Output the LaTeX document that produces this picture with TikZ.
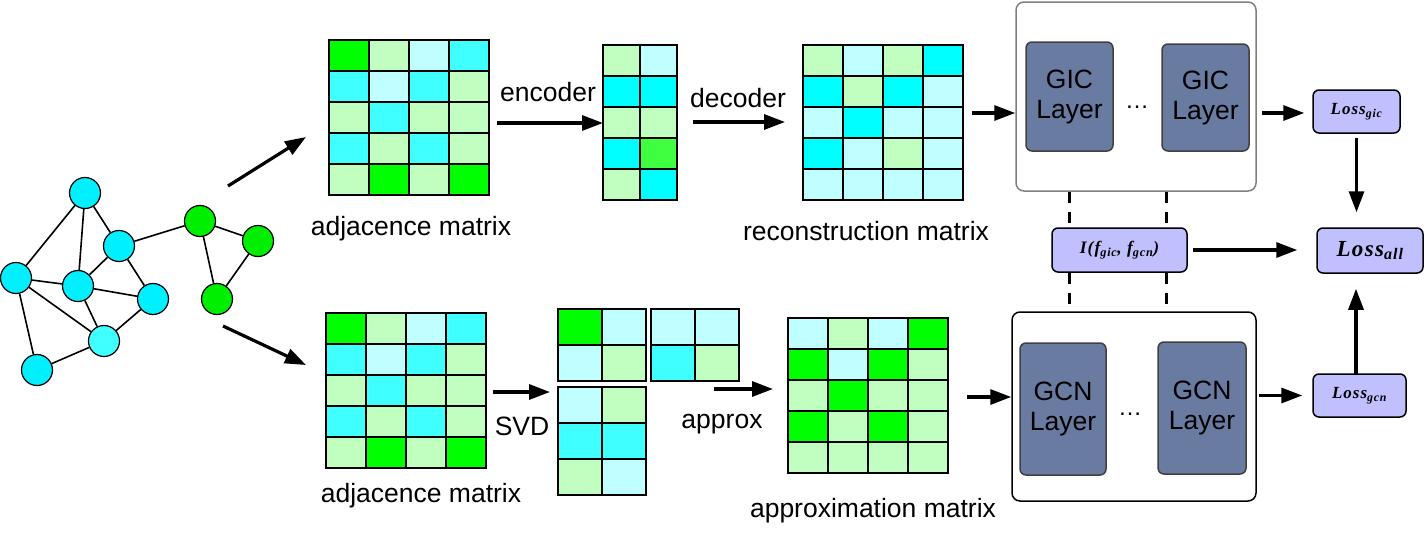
\documentclass[tikz,border=0pt]{standalone}
\usepackage{fontspec}
\setmainfont{Liberation Sans}
\newfontfamily\lossfont{Liberation Serif}
\newfontfamily\lossfontsp[LetterSpace=6]{Liberation Serif}
\usetikzlibrary{arrows.meta,calc}
\definecolor{mG}{HTML}{00FF00}
\definecolor{mGb}{HTML}{40FF40}
\definecolor{mLG}{HTML}{C0FFC0}
\definecolor{mLC}{HTML}{C0FFFF}
\definecolor{mC}{HTML}{40FFFF}
\definecolor{mCC}{HTML}{00FFFF}
\definecolor{gCy}{HTML}{00F0FF}
\definecolor{gCl}{HTML}{40FFFF}
\definecolor{gGr}{HTML}{00EE00}
\definecolor{layerfill}{HTML}{6A7BA2}
\definecolor{lossfill}{HTML}{C0C0FF}
\newcommand\cellmat[5]{%
  \foreach \row [count=\r from 0] in {#5} {
    \foreach \c [count=\k from 0] in \row {
      \filldraw[cell, fill=\c] ({#1+\k*#3},{#2+\r*#4}) rectangle ++(#3,#4);
    }}}
\begin{document}
\begin{tikzpicture}[x=1pt,y=-1pt,
  cell/.style={draw=black, line width=1.3pt},
  gnode/.style={circle, draw=black, line width=1.2pt, minimum size=31pt, inner sep=0pt},
  gedge/.style={line width=1.6pt},
  arr/.style={line width=3.2pt, -{Triangle[length=21pt,width=15pt]}},
  lbl/.style={font=\fontsize{26.5}{30}\selectfont, anchor=base, inner sep=0pt},
  layer/.style={draw=black!75, fill=layerfill, rounded corners=6pt, line width=1.5pt, align=center, font=\fontsize{26.5}{30}\selectfont, inner sep=0pt},
  outerbox/.style={draw, rounded corners=8pt, line width=1.5pt, inner sep=0pt},
  loss/.style={draw=black, fill=lossfill, rounded corners=6pt, line width=1.5pt, inner sep=0pt},
  dotsl/.style={font=\fontsize{24}{26}\selectfont, anchor=base, inner sep=0pt},
  matbox/.style={inner sep=0pt}]
\useasboundingbox (0,0) rectangle (1424,533);

% ---------- graph ----------
\node[gnode, fill=gCy] (n1) at (85,193) {};
\node[gnode, fill=gCy] (n2) at (119,246) {};
\node[gnode, fill=gCy] (n3) at (16,278) {};
\node[gnode, fill=gCy] (n4) at (78,286) {};
\node[gnode, fill=gCy] (n5) at (153,299) {};
\node[gnode, fill=gCl] (n6) at (104,341) {};
\node[gnode, fill=gCy] (n7) at (37,370) {};
\node[gnode, fill=gGr] (g1) at (200,221) {};
\node[gnode, fill=gGr] (g2) at (258,241) {};
\node[gnode, fill=gGr] (g3) at (217,299) {};
\foreach \a/\b in {n1/n3,n1/n4,n1/n2,n2/g1,n2/n4,n2/n5,n3/n4,n3/n6,n3/n7,n4/n5,n4/n6,n6/n5,n6/n7,g1/g2,g1/g3,g2/g3}
  \draw[gedge] (\a) -- (\b);

% ---------- matrices ----------
\cellmat{329}{40}{40}{31}{{mG,mLG,mLC,mC},{mC,mLC,mC,mLG},{mLG,mC,mLG,mLG},{mC,mLG,mC,mLG},{mLG,mG,mLG,mG}}
\node[matbox, minimum width=160pt, minimum height=155pt] (adjT) at (409,117.5) {};
\cellmat{603}{45}{37}{31}{{mLG,mLC},{mCC,mCC},{mLG,mLG},{mCC,mGb},{mLG,mCC}}
\node[matbox, minimum width=74pt, minimum height=155pt] (code) at (640,122.5) {};
\cellmat{803}{45}{40}{31}{{mLG,mLC,mLG,mCC},{mCC,mLG,mCC,mLC},{mLC,mCC,mLC,mLC},{mCC,mLC,mLG,mLC},{mLC,mLC,mLC,mLC}}
\node[matbox, minimum width=160pt, minimum height=155pt] (recon) at (883,122.5) {};

\cellmat{326}{313}{40}{31}{{mG,mLG,mLC,mC},{mC,mLC,mC,mLG},{mLG,mC,mLG,mLG},{mC,mLG,mC,mLG},{mLG,mG,mLG,mG}}
\node[matbox, minimum width=160pt, minimum height=155pt] (adjB) at (406,390.5) {};
\cellmat{558}{309}{44}{36}{{mG,mLC},{mLC,mLG}}
\node[matbox, minimum width=88pt, minimum height=72pt] (svdA) at (602,345) {};
\cellmat{651}{309}{44}{36}{{mLC,mLC},{mC,mLG}}
\node[matbox, minimum width=88pt, minimum height=72pt] (svdB) at (695,345) {};
\cellmat{558}{387}{44}{36}{{mLC,mLG},{mC,mC},{mLG,mLC}}
\node[matbox, minimum width=88pt, minimum height=108pt] (svdC) at (602,441) {};
\cellmat{788}{318}{40}{31}{{mLC,mLG,mLC,mG},{mG,mLC,mG,mLG},{mLG,mG,mLG,mLG},{mG,mLG,mG,mLG},{mLG,mLG,mLG,mLG}}
\node[matbox, minimum width=160pt, minimum height=155pt] (apx) at (868,395.5) {};

% ---------- labels ----------
\node[lbl] (tadjT) at (411,235) {adjacence matrix};
\node[lbl] (tenc) at (548,101) {encoder};
\node[lbl] (tdec) at (738,107) {decoder};
\node[lbl] (trec) at (866,240) {reconstruction matrix};
\node[lbl] (tadjB) at (421,502) {adjacence matrix};
\node[lbl] (tsvd) at (522,435) {SVD};
\node[lbl] (tapx) at (722,428) {approx};
\node[lbl] (tapm) at (873,517) {approximation matrix};

% ---------- right part ----------
\node[outerbox, draw=black!50, minimum width=240pt, minimum height=189pt] (gicbox) at (1136,96.5) {};
\node[layer, minimum width=87pt, minimum height=109pt] (gic1) at (1069.5,96.5) {GIC\\Layer};
\node[layer, minimum width=87pt, minimum height=107pt] (gic2) at (1205.5,97.5) {GIC\\Layer};
\node[dotsl] (gicdots) at (1137,108) {\dots};

\node[outerbox, minimum width=244pt, minimum height=189pt] (gcnbox) at (1134,406.5) {};
\node[layer, minimum width=86pt, minimum height=132pt] (gcn1) at (1063,409) {GCN\\Layer};
\node[layer, minimum width=88pt, minimum height=132pt] (gcn2) at (1202,408) {GCN\\Layer};
\node[dotsl] (gcndots) at (1130,415) {\dots};

\node[loss, minimum width=135pt, minimum height=44pt, font=\lossfontsp\bfseries\itshape\fontsize{17.5}{20}\selectfont] (ibox) at (1119.5,250) {I(f\textsubscript{gic}, f\textsubscript{gcn})};
\node[loss, minimum width=87pt, minimum height=43pt, font=\lossfontsp\bfseries\itshape\fontsize{17}{20}\selectfont] (lgic) at (1356.5,111.5) {Loss\textsubscript{gic}};
\node[loss, minimum width=106pt, minimum height=45pt, font=\lossfontsp\bfseries\itshape\fontsize{23}{26}\selectfont] (lall) at (1370,250.5) {Loss\textsubscript{all}};
\node[loss, minimum width=93pt, minimum height=43pt, font=\lossfontsp\bfseries\itshape\fontsize{17}{20}\selectfont] (lgcn) at (1359.5,395.5) {Loss\textsubscript{gcn}};

% dashed links
\coordinate (dL) at (1069,0);
\coordinate (dR) at (1166,0);
\draw[line width=3pt, dash pattern=on 11pt off 9pt] (dL |- gicbox.south) -- (dL |- ibox.north);
\draw[line width=3pt, dash pattern=on 11pt off 9pt] (dR |- gicbox.south) -- (dR |- ibox.north);
\draw[line width=3pt, dash pattern=on 11pt off 9pt] (dL |- ibox.south) -- (dL |- gcnbox.north);
\draw[line width=3pt, dash pattern=on 11pt off 9pt] (dR |- ibox.south) -- (dR |- gcnbox.north);

% ---------- arrows ----------
\coordinate (a1s) at (228,186); \coordinate (a1e) at (306,137);
\coordinate (a2s) at (223,326); \coordinate (a2e) at (306,365);
\draw[arr] (a1s) -- (a1e);
\draw[arr] (a2s) -- (a2e);
\coordinate (encs) at (497,123); \coordinate (ence) at (603,123);
\draw[arr] (encs) -- (ence);
\coordinate (decs) at (693,122); \coordinate (dece) at (785,122);
\draw[arr] (decs) -- (dece);
\coordinate (r2g) at (972,113);
\draw[arr] (r2g) -- (r2g -| gicbox.west);
\coordinate (gic2l) at (1262,113);
\draw[arr, shorten >=8pt] (gic2l) -- (gic2l -| lgic.west);
\draw[arr, shorten <=4pt, shorten >=15pt] (lgic.south) -- (lgic.south |- lall.north);
\draw[arr, shorten <=5pt, shorten >=19pt] (ibox.east) -- (ibox.east -| lall.west);
\coordinate (gcnup) at (1356,374);
\draw[arr, shorten >=15pt] (gcnup) -- (gcnup |- lall.south);
\coordinate (svds) at (493,392); \coordinate (svde) at (550,392);
\draw[arr] (svds) -- (svde);
\coordinate (apxs) at (714,389); \coordinate (apxe) at (773,389);
\draw[arr] (apxs) -- (apxe);
\coordinate (a2g) at (967,397);
\draw[arr] (a2g) -- (a2g -| gcnbox.west);
\coordinate (gcn2l) at (1259,395.5);
\draw[arr, shorten >=10pt] (gcn2l) -- (gcn2l -| lgcn.west);
\end{tikzpicture}
\end{document}
